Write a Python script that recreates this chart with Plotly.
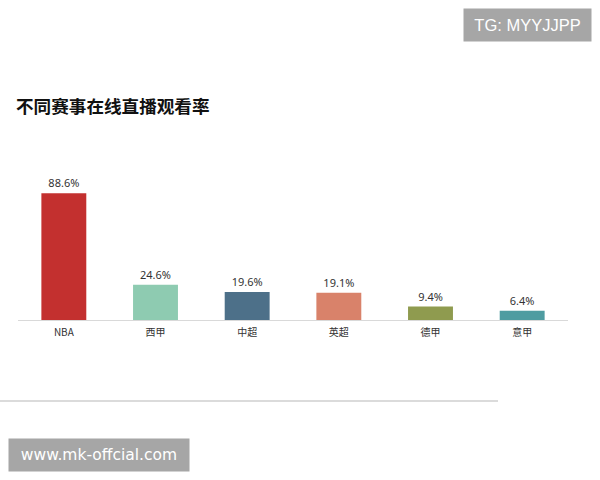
import plotly.graph_objects as go

categories = ["NBA", "西甲", "中超", "英超", "德甲", "意甲"]
values = [88.6, 24.6, 19.6, 19.1, 9.4, 6.4]
labels = ["88.6%", "24.6%", "19.6%", "19.1%", "9.4%", "6.4%"]
colors = ["#c3302f", "#8ecbb1", "#4d7089", "#d9826a", "#8f9b4f", "#4f9ca1"]

W, H = 600, 480
L, R, T, B = 18, 32, 177, 160
pw, ph = W - L - R, H - T - B

def px(x):
    return (x - L) / pw

def py(y):
    return (H - B - y) / ph

fig = go.Figure(go.Bar(
    x=categories, y=values, marker=dict(color=colors, line=dict(width=0)),
    text=labels, textposition="outside", cliponaxis=False,
    textfont=dict(family="Noto Sans, DejaVu Sans", size=11, color="#333333"),
    width=0.49,
))

fig.update_layout(
    width=W, height=H, margin=dict(l=L, r=R, t=T, b=B),
    paper_bgcolor="white", plot_bgcolor="white", showlegend=False,
    title=dict(text="<b>不同赛事在线直播观看率</b>", x=16 / W, xanchor="left",
               y=1 - 107 / H, yanchor="middle", xref="container", yref="container",
               font=dict(family="Noto Sans CJK SC", size=17.6, color="#111111")),
    xaxis=dict(showgrid=False, showline=True, linecolor="#d9d9d9", linewidth=1,
               ticks="", ticklabelstandoff=3,
               tickfont=dict(family="Noto Sans CJK SC", size=10, color="#333333")),
    yaxis=dict(range=[0, 100], visible=False, showgrid=False),
    font=dict(family="Noto Sans CJK SC"),
)

fig.add_shape(type="line", xref="paper", yref="paper", x0=px(0), x1=px(498),
              y0=py(401), y1=py(401), line=dict(color="#cfcfcf", width=1.5))

fig.add_annotation(text="TG: MYYJJPP", xref="paper", yref="paper",
                   x=px(527.5), y=py(25), xanchor="center", yanchor="middle",
                   showarrow=False, width=125, height=30, bgcolor="#a6a6a6",
                   font=dict(family="Liberation Sans", size=16.5, color="white"))
fig.add_annotation(text="www.mk-offcial.com", xref="paper", yref="paper",
                   x=px(99), y=py(455), xanchor="center", yanchor="middle",
                   showarrow=False, width=178, height=30, bgcolor="#a6a6a6",
                   font=dict(family="DejaVu Sans", size=15.5, color="white"))

fig.write_html("out.html", config={"displayModeBar": False},
               post_script="document.body.style.margin='0';")
